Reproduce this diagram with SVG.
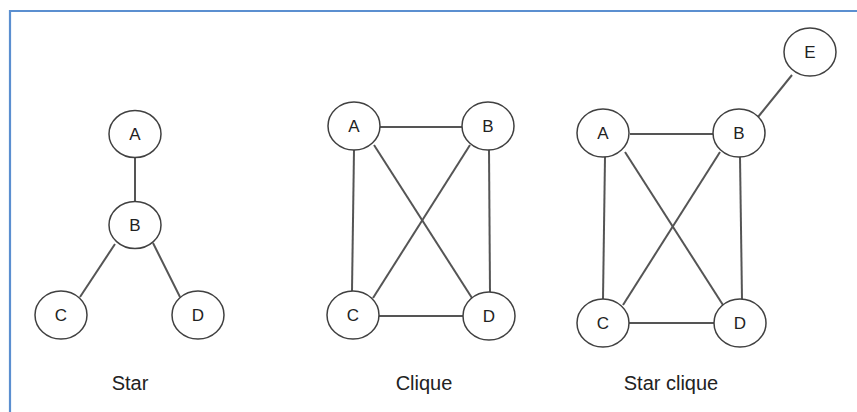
<svg xmlns="http://www.w3.org/2000/svg" width="857" height="412" viewBox="0 0 857 412">
<style>
.n ellipse{fill:#fff;stroke:#404040;stroke-width:1.5}
.n text,.lbl{font-family:"Liberation Sans",Arial,sans-serif;fill:#222;text-anchor:middle}
.n text{font-size:17px}
.lbl{font-size:20px}
#edges line{stroke:#555;stroke-width:2}
</style>
<rect width="857" height="412" fill="#fff"/>
<path d="M10,412 V11 H857" fill="none" stroke="#5b8fd0" stroke-width="2.2"/>
<g id="edges">
<line x1="135" y1="157" x2="135" y2="202"/>
<line x1="115" y1="244" x2="80" y2="297"/>
<line x1="153" y1="243" x2="180" y2="297"/>
<line x1="380" y1="127" x2="462" y2="127"/>
<line x1="354" y1="150" x2="352" y2="291"/>
<line x1="489" y1="150" x2="490" y2="292"/>
<line x1="374" y1="145" x2="472" y2="298"/>
<line x1="470" y1="145" x2="373" y2="298"/>
<line x1="379" y1="316" x2="463" y2="316"/>
<line x1="758" y1="117" x2="792" y2="75"/>
<line x1="630" y1="134" x2="713" y2="134"/>
<line x1="605" y1="157" x2="603" y2="299"/>
<line x1="740" y1="157" x2="742" y2="299"/>
<line x1="625" y1="152" x2="723" y2="305"/>
<line x1="720" y1="152" x2="623" y2="305"/>
<line x1="629" y1="323" x2="714" y2="323"/>
</g>
<g id="star-A" class="n"><ellipse cx="135" cy="134" rx="26" ry="23.5"/><text x="135" y="140">A</text></g>
<g id="star-B" class="n"><ellipse cx="135" cy="225" rx="26" ry="23.5"/><text x="135" y="231">B</text></g>
<g id="star-C" class="n"><ellipse cx="61" cy="315" rx="26" ry="24"/><text x="61" y="321">C</text></g>
<g id="star-D" class="n"><ellipse cx="198" cy="315" rx="26" ry="24"/><text x="198" y="321">D</text></g>
<g id="clique-A" class="n"><ellipse cx="354" cy="126" rx="26" ry="24"/><text x="354" y="132">A</text></g>
<g id="clique-B" class="n"><ellipse cx="488" cy="126" rx="26" ry="24"/><text x="488" y="132">B</text></g>
<g id="clique-C" class="n"><ellipse cx="353" cy="315" rx="26" ry="24"/><text x="353" y="321">C</text></g>
<g id="clique-D" class="n"><ellipse cx="489" cy="316" rx="26" ry="24"/><text x="489" y="322">D</text></g>
<g id="sc-E" class="n"><ellipse cx="810" cy="52" rx="26" ry="24"/><text x="810" y="58">E</text></g>
<g id="sc-A" class="n"><ellipse cx="603" cy="133" rx="26" ry="24"/><text x="603" y="139">A</text></g>
<g id="sc-B" class="n"><ellipse cx="739" cy="133" rx="26" ry="24"/><text x="739" y="139">B</text></g>
<g id="sc-C" class="n"><ellipse cx="603" cy="323" rx="26" ry="24"/><text x="603" y="329">C</text></g>
<g id="sc-D" class="n"><ellipse cx="740" cy="323" rx="26" ry="24"/><text x="740" y="329">D</text></g>
<text class="lbl" x="130" y="390">Star</text>
<text class="lbl" x="424" y="390">Clique</text>
<text class="lbl" x="671" y="390">Star clique</text>
</svg>
